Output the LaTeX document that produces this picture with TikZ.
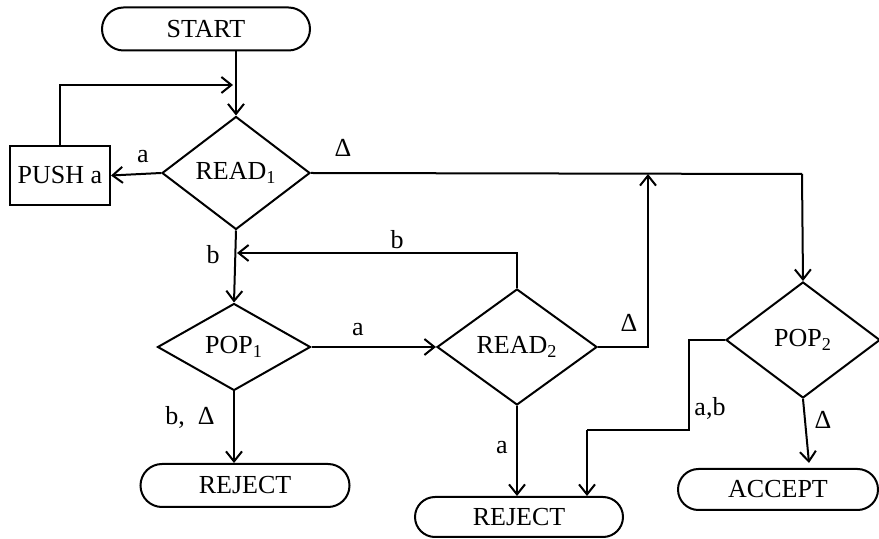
\documentclass[tikz,border=0pt]{standalone}
\usepackage{fontspec}
\setmainfont{Liberation Serif}
\usetikzlibrary{shapes.geometric,shapes.misc,arrows.meta}
\begin{document}
\begin{tikzpicture}[x=0.5pt,y=-0.5pt,
  font=\fontsize{13}{15}\selectfont,
  every path/.style={line width=1pt},
  term/.style={draw,rounded rectangle,inner sep=0pt},
  dec/.style={draw,diamond,inner sep=0pt},
  box/.style={draw,rectangle,inner sep=0pt},
  arr/.style={-{Straight Barb[length=5pt,width=8pt]}},
  lbl/.style={inner sep=0pt}]
\useasboundingbox (0,0) rectangle (879,539);
% nodes
\node[term,minimum width=104pt,minimum height=21.5pt] (start) at (206,29) {START};
\node[dec,minimum width=74pt,minimum height=56.5pt] (read1) at (236,173) {READ\textsubscript{1}};
\node[box,minimum width=50pt,minimum height=29.5pt] (push) at (60,175.5) {PUSH a};
\node[dec,minimum width=76.5pt,minimum height=43.5pt] (pop1) at (234,347) {POP\textsubscript{1}};
\node[dec,minimum width=80pt,minimum height=58pt] (read2) at (517,347) {READ\textsubscript{2}};
\node[dec,minimum width=77pt,minimum height=58pt] (pop2) at (803,340) {POP\textsubscript{2}};
\node[term,minimum width=104.5pt,minimum height=21.5pt] (rej1) at (245,485.5) {REJECT};
\node[term,minimum width=104pt,minimum height=20pt] (rej2) at (519,517) {REJECT};
\node[term,minimum width=100pt,minimum height=20.5pt] (acc) at (778,489.5) {ACCEPT};
% coordinates
\coordinate (loopend) at (233,85);
\coordinate (j1) at (648,174);
\coordinate (j2) at (802,174);
\coordinate (bjoin) at (237,253);
\coordinate (k) at (587,430);
\coordinate (accin) at (809,463);
% connectors
\draw[arr] (start.south -| read1.north) -- (read1.north);
\draw[arr] (push.north) |- (loopend);
\draw[arr] (read1.west) -- (push.east);
\draw (read1.east) -- (j2);
\draw[arr] (j2) -- (pop2.north);
\draw[arr] (read2.east) -| (j1);
\draw[arr] (read1.south) -- (pop1.north);
\draw[arr] (read2.north) |- (bjoin);
\draw[arr] (pop1.east) -- (read2.west);
\draw[arr] (pop1.south) -- (rej1.north -| pop1.south);
\draw[arr] (read2.south) -- (rej2.north -| read2.south);
\draw (pop2.west) -- ++(-36,0) |- (k);
\draw[arr] (k) -- (k |- rej2.north);
\draw[arr] (pop2.south) -- (accin);
% labels
\node[lbl] (la1) at (143,157) {a};
\node[lbl] (ld1) at (343,148) {Δ};
\node[lbl] (lb1) at (213,255) {b};
\node[lbl] (lb2) at (397,240) {b};
\node[lbl] (la2) at (358,330) {a};
\node[lbl] (lbd) at (190,417) {b,\ \ Δ};
\node[lbl] (ld2) at (629,323) {Δ};
\node[lbl] (la3) at (502,448) {a};
\node[lbl] (lab) at (710,408) {a,b};
\node[lbl] (ld3) at (823,420) {Δ};
\end{tikzpicture}
\end{document}
